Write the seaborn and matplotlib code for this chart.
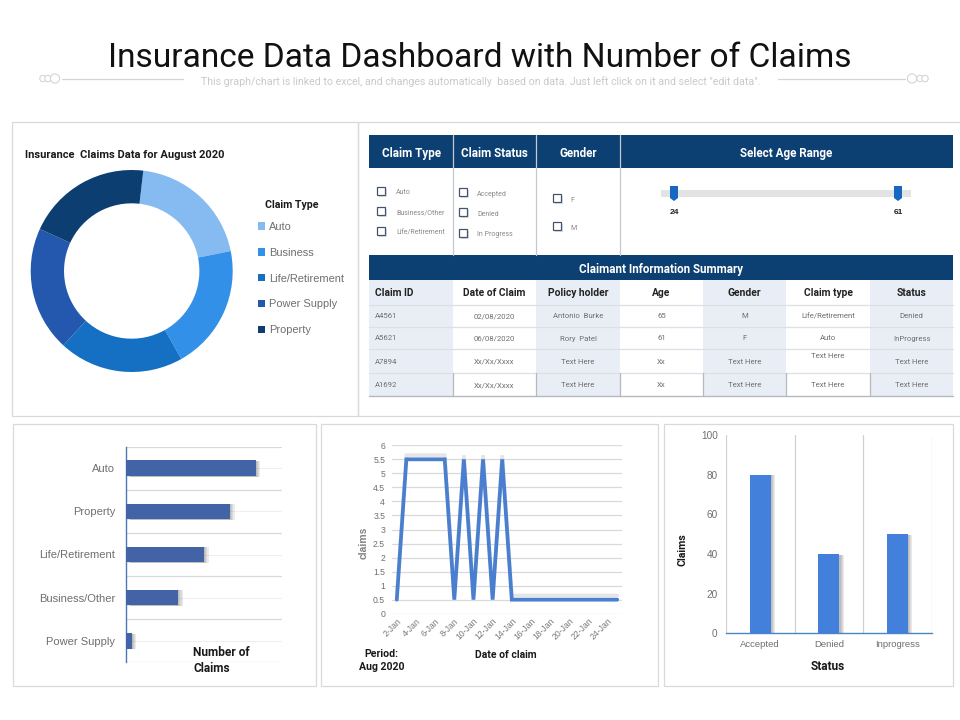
# REQUIRED LIBRARIES
import matplotlib
matplotlib.use("Agg")
import matplotlib.pyplot as plt
import matplotlib.patheffects as pe
import pandas as pd
import seaborn as sns
from matplotlib.patches import Rectangle, Circle, Polygon

# DATA
donut_labels = ["Auto", "Business", "Life/Retirement", "Power Supply", "Property"]
donut_values = [20, 20, 20, 20, 20]
donut_colors = ["#85bbf0", "#3390e8", "#1570c4", "#2358ae", "#0d3e72"]

hbar_labels = ["Auto", "Property", "Life/Retirement", "Business/Other", "Power Supply"]
hbar_values = [5, 4, 3, 2, 0.22]

line_dates = ["2-Jan", "3-Jan", "4-Jan", "5-Jan", "6-Jan", "7-Jan", "8-Jan", "9-Jan",
              "10-Jan", "11-Jan", "12-Jan", "13-Jan", "14-Jan", "15-Jan", "16-Jan", "17-Jan",
              "18-Jan", "19-Jan", "20-Jan", "21-Jan", "22-Jan", "23-Jan", "24-Jan", "25-Jan"]
line_values = [0.5, 5.5, 5.5, 5.5, 5.5, 5.5, 0.5, 5.5, 0.5, 5.5, 0.5, 5.5,
               0.5, 0.5, 0.5, 0.5, 0.5, 0.5, 0.5, 0.5, 0.5, 0.5, 0.5, 0.5]
line_yticks = [0, 0.5, 1, 1.5, 2, 2.5, 3, 3.5, 4, 4.5, 5, 5.5, 6]
line_yticklabels = ["0", "0.5", "1", "1.5", "2", "2.5", "3", "3.5", "4", "4.5", "5", "5.5", "6"]

status_labels = ["Accepted", "Denied", "Inprogress"]
status_values = [80, 40, 50]

filter_headers = ["Claim Type", "Claim Status", "Gender", "Select Age Range"]
claim_type_opts = ["Auto", "Business/Other", "Life/Retirement"]
claim_status_opts = ["Accepted", "Denied", "In Progress"]
gender_opts = ["F", "M"]
age_range = [24, 61]

table_columns = ["Claim ID", "Date of Claim", "Policy holder", "Age", "Gender", "Claim type", "Status"]
table_rows = [
    ["A4561", "02/08/2020", "Antonio  Burke", "65", "M", "Life/Retirement", "Denied"],
    ["A5621", "06/08/2020", "Rory  Patel", "61", "F", "Auto", "InProgress"],
    ["A7894", "Xx/Xx/Xxxx", "Text Here", "Xx", "Text Here", "Text Here", "Text Here"],
    ["A1692", "Xx/Xx/Xxxx", "Text Here", "Xx", "Text Here", "Text Here", "Text Here"],
]

# VISUAL SETTINGS
sns.set_theme(style="white")
plt.rcParams["font.family"] = ["Liberation Sans", "DejaVu Sans"]
NARROW = ["Roboto", "Liberation Sans", "DejaVu Sans"]
NAVY = "#0c3f72"
GREY_TXT = "#6f6f6f"
W, H = 960, 720

fig = plt.figure(figsize=(9.6, 7.2), dpi=100, facecolor="white")


def px_axes(left, top, right, bottom, **kw):
    return fig.add_axes([left / W, 1 - bottom / H, (right - left) / W, (bottom - top) / H], **kw)


# page overlay in pixel units, for panels, table and captions
page = fig.add_axes([0, 0, 1, 1], zorder=0)
page.set_xlim(0, W)
page.set_ylim(H, 0)
page.axis("off")


def box(x0, y0, x1, y1, fc="none", ec="#d9d9d9", lw=0.9, z=1):
    page.add_patch(Rectangle((x0, y0), x1 - x0, y1 - y0, fc=fc, ec=ec, lw=lw, zorder=z))


def txt(x, y, s, size=7, color=GREY_TXT, weight="normal", ha="center", family=None, **kw):
    page.text(x, y, s, fontsize=size, color=color, fontweight=weight, ha=ha, va="center_baseline",
              family=family or plt.rcParams["font.family"], zorder=6, **kw)


def soft_shadow(bar, steps=(3.2, 2.4, 1.6, 0.8)):
    # stacked translucent copies stand in for the blurred drop shadow
    effects = [pe.SimplePatchShadow(offset=(s, -0.4), shadow_rgbFace="#666666", alpha=0.13) for s in steps]
    bar.set_path_effects(effects + [pe.Normal()])


# TITLE
txt(480, 54.5, "Insurance Data Dashboard with Number of Claims", size=24.1, color="#111111", family=NARROW)
txt(481, 80.5, 'This graph/chart is linked to excel, and changes automatically  based on data. Just left click on it and select "edit data".',
    size=7.7, color="#c9c9c9", family=NARROW)
page.plot([62, 183], [78.5, 78.5], color="#d5d5d5", lw=0.9)
page.plot([778, 905], [78.5, 78.5], color="#d5d5d5", lw=0.9)
for cx, r in [(43, 3.2), (48, 3.2), (55, 4.6), (912, 4.6), (920, 3.2), (925, 3.2)]:
    page.add_patch(Circle((cx, 78.5), r, fc="white", ec="#d5d5d5", lw=0.8))

# PANELS
box(12, 122, 358, 416)
box(358, 122, 975, 416)
box(13, 424, 316, 686)
box(321, 424, 658, 686)
box(664, 424, 953, 686)

# 1. DONUT
ax_d = px_axes(30.7, 170, 232.7, 372)
wedges, _ = ax_d.pie(donut_values, colors=donut_colors, startangle=83.4, counterclock=False, radius=1,
                     wedgeprops=dict(width=0.33, edgecolor="none"))
ax_d.set_xlim(-1, 1)
ax_d.set_ylim(-1, 1)
txt(25, 154, "Insurance  Claims Data for August 2020", size=8, color="#1a1a1a", weight="bold", ha="left", family=NARROW)
txt(265, 204, "Claim Type", size=7.6, color="#1a1a1a", weight="bold", ha="left", family=NARROW)
fig.legend(wedges, donut_labels, loc="upper left", bbox_to_anchor=(258 / W, 1 - 222 / H),
           frameon=False, fontsize=7.9, labelcolor=GREY_TXT, handlelength=0.65, handleheight=0.65,
           handletextpad=0.35, labelspacing=1.44, borderpad=0, borderaxespad=0)

# 2. FILTER AND SUMMARY TABLE
col_x = [369, 453, 536, 620, 703, 786, 870, 953]
row_y = [280, 305, 327, 349, 373, 396]

box(col_x[0], 135, col_x[-1], 168, fc=NAVY, ec="none", z=2)
box(col_x[0], 255, col_x[-1], 280, fc=NAVY, ec="none", z=2)
for j in range(0, 7, 2):
    box(col_x[j], row_y[0], col_x[j + 1], row_y[-1], fc="#e9edf5", ec="none", z=1)
for y in row_y[1:-1]:
    page.plot([col_x[0], col_x[-1]], [y, y], color="#dcdfe4", lw=0.9, zorder=3)
page.plot([col_x[0], col_x[-1]], [row_y[-1], row_y[-1]], color="#b5b8bd", lw=1, zorder=3)
for x in col_x[1:4]:
    page.plot([x, x], [135, 255], color="#c5c9cf", lw=0.9, zorder=3)
for x in col_x[1:-1]:
    page.plot([x, x], [row_y[4], row_y[5]], color="#b5b8bd", lw=0.9, zorder=3)

for j, head in enumerate(filter_headers[:3]):
    txt((col_x[j] + col_x[j + 1]) / 2, 152, head, size=8.4, color="white", weight="bold", family=NARROW)
txt((col_x[3] + col_x[-1]) / 2, 152, filter_headers[3], size=8.4, color="white", weight="bold", family=NARROW)
txt((col_x[0] + col_x[-1]) / 2, 268.5, "Claimant Information Summary", size=8.4, color="white", weight="bold", family=NARROW)


def check(x, y, label, tx):
    page.add_patch(Rectangle((x - 4, y - 4), 8, 8, fc="white", ec="#44546a", lw=0.9, zorder=4,
                             path_effects=[pe.SimplePatchShadow(offset=(1.5, -1.5), shadow_rgbFace="#8a9ab5", alpha=0.3), pe.Normal()]))
    txt(tx, y + 1, label, size=5, color="#8a8a8a", ha="left", family=NARROW)


for label, y in zip(claim_type_opts, [190.7, 210.7, 231.3]):
    check(381, y, label, 396)
for label, y in zip(claim_status_opts, [192.3, 212.3, 232.7]):
    check(463, y, label, 477)
for label, y in zip(gender_opts, [198, 226]):
    check(557, y, label, 570)

# age slider
page.add_patch(Rectangle((661, 190), 250, 7, fc="#e3e3e3", ec="none", zorder=3))
for x, a, ly in zip([674, 898], age_range, [211, 212]):
    page.add_patch(Polygon([(x - 4, 186), (x + 4, 186), (x + 4, 198), (x, 201), (x - 4, 198)], fc="#1668c0", ec="none", zorder=4))
    txt(x, ly, str(a), size=6, color="#222222", weight="bold")

# table head and rows
for j, head in enumerate(table_columns):
    if j == 0:
        txt(col_x[0] + 6, 292.5, head, size=7.4, color="#222222", weight="bold", ha="left", family=NARROW)
    else:
        txt((col_x[j] + col_x[j + 1]) / 2, 292.5, head, size=7.4, color="#222222", weight="bold", family=NARROW)
for i, row in enumerate(table_rows):
    cy = (row_y[i + 1] + row_y[i + 2]) / 2
    for j, val in enumerate(row):
        if j == 0:
            txt(col_x[0] + 6, cy, val, size=5.6, ha="left", family=NARROW)
        else:
            # the "Text Here" in row 3 of Claim type sits high in its cell
            off = -6 if (i == 2 and j == 5) else 0
            txt((col_x[j] + col_x[j + 1]) / 2, cy + off, val, size=5.6, family=NARROW)

# 3. NUMBER OF CLAIMS BAR CHART
ax_h = px_axes(126.3, 446.7, 282, 662.3)
hbar_df = pd.DataFrame({"Type": hbar_labels, "Claims": hbar_values})
sns.barplot(data=hbar_df, y="Type", x="Claims", color="#4263a5", saturation=1, width=0.36, linewidth=0, ax=ax_h, zorder=3)
ax_h.set_xlim(0, 6)
ax_h.set_xlabel("")
ax_h.set_ylabel("")
for k in range(6):
    ax_h.axhline(k - 0.5, color="#d9d9d9", lw=0.9, zorder=1)
for k in range(5):
    ax_h.axhline(k, color="#efefef", lw=0.8, zorder=1)
for side in ["top", "right", "bottom"]:
    ax_h.spines[side].set_visible(False)
ax_h.spines["left"].set_color("#4a78b5")
ax_h.spines["left"].set_linewidth(1)
ax_h.tick_params(axis="y", length=0, pad=8, labelsize=8, labelcolor=GREY_TXT)
ax_h.tick_params(axis="x", bottom=False, labelbottom=False)
for bar in ax_h.patches:
    soft_shadow(bar)
ax_h.set_facecolor("none")
txt(193, 650.5, "Number of", size=8.6, color="#1a1a1a", weight="bold", ha="left", family=NARROW)
txt(193, 666.5, "Claims", size=8.6, color="#1a1a1a", weight="bold", ha="left", family=NARROW)

# 4. DAILY CLAIMS LINE
ax_l = px_axes(392, 445.3, 622, 613.7)
line_df = pd.DataFrame({"Date": line_dates, "Claims": line_values})
sns.lineplot(data=line_df, x="Date", y="Claims", sort=False, color="#4a7fd0", lw=2.7, ax=ax_l, zorder=3,
             solid_joinstyle="miter",
             path_effects=[pe.SimpleLineShadow(offset=(0, 3), shadow_color="#aaaaaa", alpha=0.3), pe.Normal()])
ax_l.set_xlim(-0.5, 23.5)
ax_l.set_ylim(0, 6)
ax_l.set_yticks(line_yticks, line_yticklabels)
ax_l.set_xticks(range(0, 24, 2), line_dates[::2])
ax_l.grid(axis="y", color="#d9d9d9", lw=0.9)
ax_l.grid(axis="x", visible=False)
ax_l.set_axisbelow(True)
sns.despine(ax=ax_l, left=True, bottom=True)
ax_l.tick_params(axis="y", length=0, pad=5, labelsize=6.2, labelcolor=GREY_TXT)
ax_l.tick_params(axis="x", length=0, pad=2, labelsize=6.2, labelcolor="#7a7a7a")
plt.setp(ax_l.get_xticklabels(), rotation=45, ha="right", rotation_mode="anchor")
ax_l.set_xlabel("")
ax_l.set_ylabel("")
txt(364, 531, "claims", size=7.4, color="#808080", weight="bold", rotation=90)
txt(506, 654, "Date of claim", size=7.5, color="#1a1a1a", weight="bold", family=NARROW)
txt(381.5, 653, "Period:", size=7.6, color="#1a1a1a", weight="bold", family=NARROW)
txt(381.5, 666, "Aug 2020", size=7.6, color="#1a1a1a", weight="bold", family=NARROW)

# 5. CLAIMS BY STATUS
ax_s = px_axes(726, 435, 931.7, 633.3)
status_df = pd.DataFrame({"Status": status_labels, "Claims": status_values})
sns.barplot(data=status_df, x="Status", y="Claims", color="#4380dc", saturation=1, width=0.31, linewidth=0, ax=ax_s, zorder=3)
ax_s.set_ylim(0, 100)
ax_s.set_xlim(-0.5, 2.5)
ax_s.set_yticks([0, 20, 40, 60, 80, 100])
for k in range(4):
    ax_s.axvline(k - 0.5, color="#d0d0d0", lw=0.9, zorder=1)
for side in ["top", "right", "left"]:
    ax_s.spines[side].set_visible(False)
ax_s.spines["bottom"].set_color("#4a86c5")
ax_s.spines["bottom"].set_linewidth(1)
ax_s.tick_params(axis="y", length=0, pad=6, labelsize=7.2, labelcolor=GREY_TXT)
ax_s.tick_params(axis="x", length=0, pad=5, labelsize=6.8, labelcolor=GREY_TXT)
for bar in ax_s.patches:
    soft_shadow(bar)
ax_s.set_xlabel("")
ax_s.set_ylabel("")
ax_s.set_facecolor("none")
txt(682, 537, "Claims", size=7.6, color="#1a1a1a", weight="bold", rotation=90, family=NARROW)
txt(828, 665, "Status", size=8.6, color="#1a1a1a", weight="bold", family=NARROW)

fig.savefig("out.png", dpi=100)
